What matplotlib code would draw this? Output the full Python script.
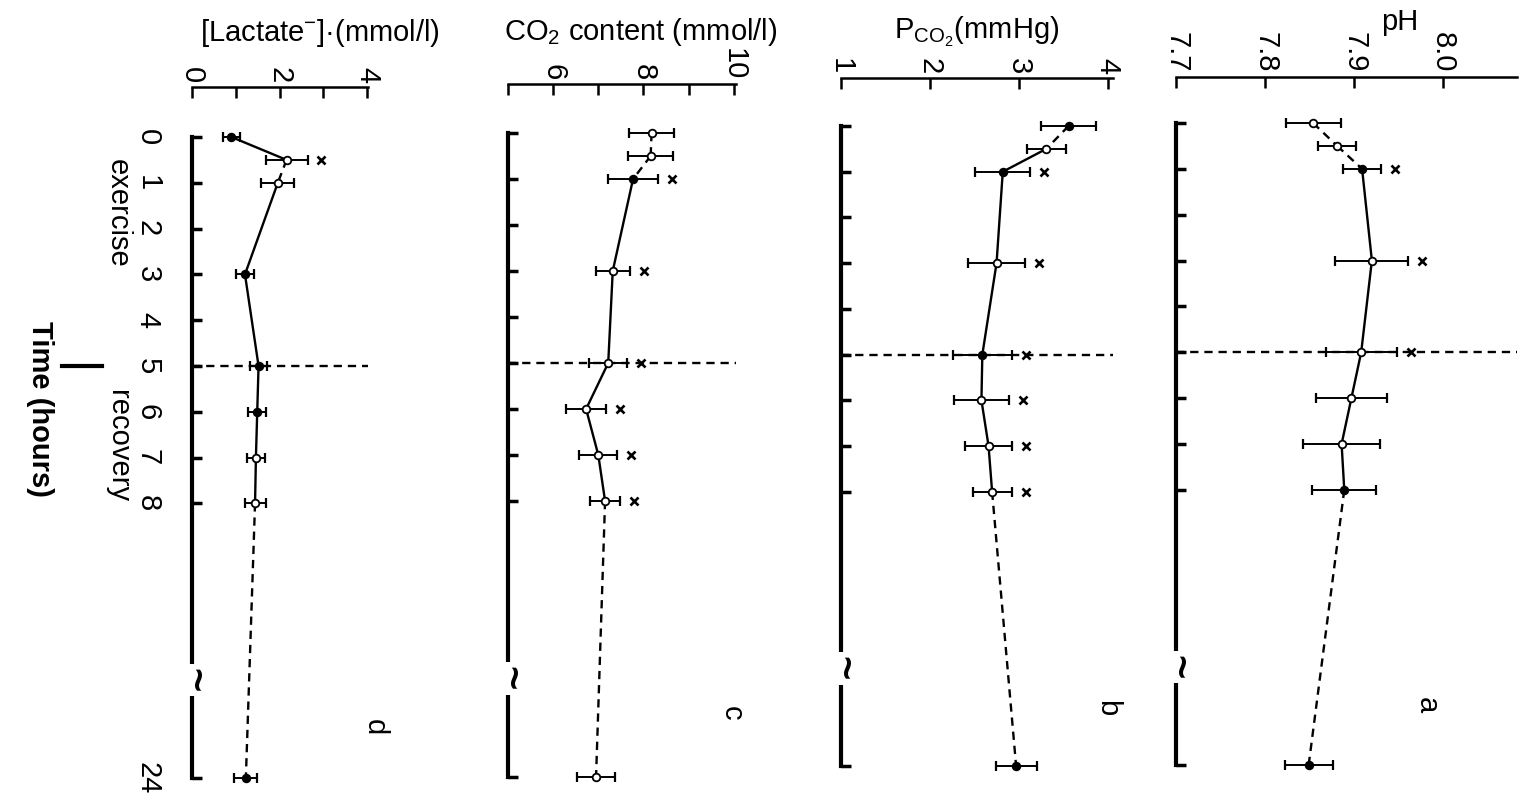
import numpy as np
import matplotlib
matplotlib.use('Agg')
import matplotlib.pyplot as plt
from matplotlib.transforms import offset_copy, blended_transform_factory

plt.rcParams['font.family'] = ['Liberation Sans', 'DejaVu Sans']
plt.rcParams['mathtext.default'] = 'regular'

# ── data ─────────────────────────────────────────────
TIME = [0, 0.5, 1, 3, 5, 6, 7, 8, 24]
TIME_TICKS = [0, 1, 2, 3, 4, 5, 6, 7, 8, 24]
TIME_LABELS = ['0', '1', '2', '3', '4', '5', '6', '7', '8', '24']

LACTATE     = [0.90, 2.16, 1.96, 1.21, 1.52, 1.49, 1.46, 1.44, 1.23]
LACTATE_ERR = [0.20, 0.48, 0.38, 0.20, 0.20, 0.21, 0.20, 0.24, 0.26]
LACTATE_SIG = [0.5]

CO2     = [8.18, 8.16, 7.77, 7.32, 7.22, 6.73, 7.00, 7.15, 6.95]
CO2_ERR = [0.50, 0.50, 0.55, 0.38, 0.42, 0.45, 0.42, 0.33, 0.42]
CO2_SIG = [1, 3, 5, 6, 7, 8]

PCO2     = [3.56, 3.31, 2.82, 2.75, 2.59, 2.58, 2.66, 2.70, 2.97]
PCO2_ERR = [0.31, 0.22, 0.31, 0.32, 0.33, 0.31, 0.26, 0.22, 0.23]
PCO2_SIG = [1, 3, 5, 6, 7, 8]

PH     = [7.854, 7.881, 7.909, 7.920, 7.908, 7.897, 7.886, 7.889, 7.849]
PH_ERR = [0.031, 0.021, 0.021, 0.041, 0.040, 0.040, 0.043, 0.036, 0.027]
PH_SIG = [1, 3, 5]

# filled (1) / open (0) symbols
LACTATE_FILL = [1, 0, 0, 1, 1, 1, 0, 0, 1]
CO2_FILL     = [0, 0, 1, 0, 0, 0, 0, 0, 0]
PCO2_FILL    = [1, 0, 1, 0, 1, 0, 0, 0, 1]
PH_FILL      = [0, 0, 1, 0, 0, 0, 0, 1, 1]

# ── figure ───────────────────────────────────────────
W, H = 1530, 808
fig = plt.figure(figsize=(W / 100, H / 100), dpi=100)
FS = 21
DASH = (0, (3.5, 2.5))


def fwd(t):
    t = np.asarray(t, float)
    return np.where(t <= 8, t, 8 + (t - 8) * 0.375)


def inv(p):
    p = np.asarray(p, float)
    return np.where(p <= 8, p, 8 + (p - 8) / 0.375)


def make_panel(left, right, top, y0, y24, xlim):
    bottom = y24 + 20
    ax = fig.add_axes([left / W, 1 - bottom / H, (right - left) / W, (bottom - top) / H])
    ax.set_yscale('function', functions=(fwd, inv))
    s = (y24 - y0) / 14
    ax.set_ylim(float(inv(14 + (bottom - y24) / s)), float(inv(-(y0 - top) / s)))
    ax.set_xlim(*xlim)
    ax.set_facecolor('none')
    ax.spines[['right', 'bottom']].set_visible(False)
    ax.spines['left'].set_linewidth(3)
    ax.spines['left'].set_bounds(0, 24)
    ax.spines['top'].set_linewidth(1.8)
    ax.xaxis.set_ticks_position('top')
    ax.set_yticks(TIME_TICKS)
    ax.set_yticklabels(TIME_LABELS)
    ax.tick_params(axis='y', direction='in', length=7, width=2.5, pad=22,
                   labelsize=FS, labelrotation=-90, labelleft=False)
    ax.tick_params(axis='x', which='both', direction='in', length=8, width=1.8,
                   pad=3, labelsize=FS)
    # axis break
    bt = blended_transform_factory(ax.transAxes, ax.transData)
    ax.text(0, 18.3, '~', transform=bt, rotation=-90, ha='center', va='center',
            fontsize=30, fontweight='bold', clip_on=False, zorder=6,
            bbox=dict(fc='white', ec='none', pad=3))
    return ax


def draw_series(ax, vals, errs, fill, styles, sig):
    for i in range(len(TIME) - 1):
        ax.plot(vals[i:i + 2], TIME[i:i + 2], color='k', lw=1.7,
                ls=DASH if styles[i] == '--' else '-', zorder=2)
    ax.errorbar(vals, TIME, xerr=errs, fmt='none', ecolor='k', elinewidth=1.4,
                capsize=3.5, capthick=1.6, zorder=3)
    for v, t, f in zip(vals, TIME, fill):
        ax.plot(v, t, 'o', ms=5.5, mec='k', mew=1.3, mfc='k' if f else 'white', zorder=4)
    tr = offset_copy(ax.transData, fig=fig, x=10, units='points')
    for t in sig:
        i = TIME.index(t)
        ax.plot(vals[i] + errs[i], t, marker='x', ms=5.5, mew=1.9, color='k',
                transform=tr, zorder=4)
    ax.axhline(5, color='k', lw=1.7, ls=DASH, zorder=1)


# ── panel d : lactate ────────────────────────────────
ax_d = make_panel(192, 368, 87, 137, 778, (0, 4.02))
ax_d.set_xticks([0, 2, 4])
ax_d.set_xticks([1, 3], minor=True)
ax_d.set_xticklabels(['0', '2', '4'], rotation=-90)
ax_d.tick_params(axis='y', labelleft=True)
for lab in ax_d.get_yticklabels():
    lab.set_va('center')
draw_series(ax_d, LACTATE, LACTATE_ERR, LACTATE_FILL,
            ['-', '--', '-', '-', '-', '-', '-', '--'], LACTATE_SIG)

bt = blended_transform_factory(ax_d.transAxes, ax_d.transData)
ax_d.text(-0.42, 1.66, 'exercise', transform=bt, rotation=-90, ha='center',
          va='center', fontsize=FS, clip_on=False)
ax_d.text(-0.42, 6.75, 'recovery', transform=bt, rotation=-90, ha='center',
          va='center', fontsize=FS, clip_on=False)
ax_d.text(-0.864, 5.95, 'Time (hours)', transform=bt, rotation=-90, ha='center',
          va='center', fontsize=FS, fontweight='bold', clip_on=False)
ax_d.plot([-0.74, -0.51], [5, 5], transform=bt, color='k', lw=3, clip_on=False)

# ── panel c : CO2 content ────────────────────────────
ax_c = make_panel(508, 736, 84, 133, 777, (5, 10.05))
ax_c.set_xticks([6, 8, 10])
ax_c.set_xticks([5, 7, 9], minor=True)
ax_c.set_xticklabels(['6', '8', '10'], rotation=-90)
draw_series(ax_c, CO2, CO2_ERR, CO2_FILL,
            ['--', '--', '-', '-', '-', '-', '-', '--'], CO2_SIG)

# ── panel b : PCO2 ───────────────────────────────────
ax_b = make_panel(841, 1113, 78, 126, 766, (1, 4.06))
ax_b.set_xticks([1, 2, 3, 4])
ax_b.set_xticklabels(['1', '2', '3', '4'], rotation=-90)
draw_series(ax_b, PCO2, PCO2_ERR, PCO2_FILL,
            ['--', '-', '-', '-', '-', '-', '-', '--'], PCO2_SIG)

# ── panel a : pH ─────────────────────────────────────
ax_a = make_panel(1176, 1517, 77, 123, 765, (7.7, 8.083))
ax_a.set_xticks([7.7, 7.8, 7.9, 8.0])
ax_a.set_xticklabels(['7.7', '7.8', '7.9', '8.0'], rotation=-90)
draw_series(ax_a, PH, PH_ERR, PH_FILL,
            ['--', '--', '-', '-', '-', '-', '-', '--'], PH_SIG)

# ── titles and panel letters ─────────────────────────
def ftext(x, y, s, **kw):
    fig.text(x / W, 1 - y / H, s, ha='center', va='center', fontsize=FS, **kw)


ftext(320, 33, r'[Lactate$^{-}$]·(mmol/l)')
ftext(641, 32, r'CO$_2$ content (mmol/l)')
ftext(977, 32, r'P$_{CO_2}$(mmHg)')
ftext(1400, 22, 'pH')

ftext(375, 727, 'd', rotation=-90)
ftext(732, 713, 'c', rotation=-90)
ftext(1107, 708, 'b', rotation=-90)
ftext(1427, 705, 'a', rotation=-90)

fig.savefig('out.png', dpi=100, facecolor='white')
